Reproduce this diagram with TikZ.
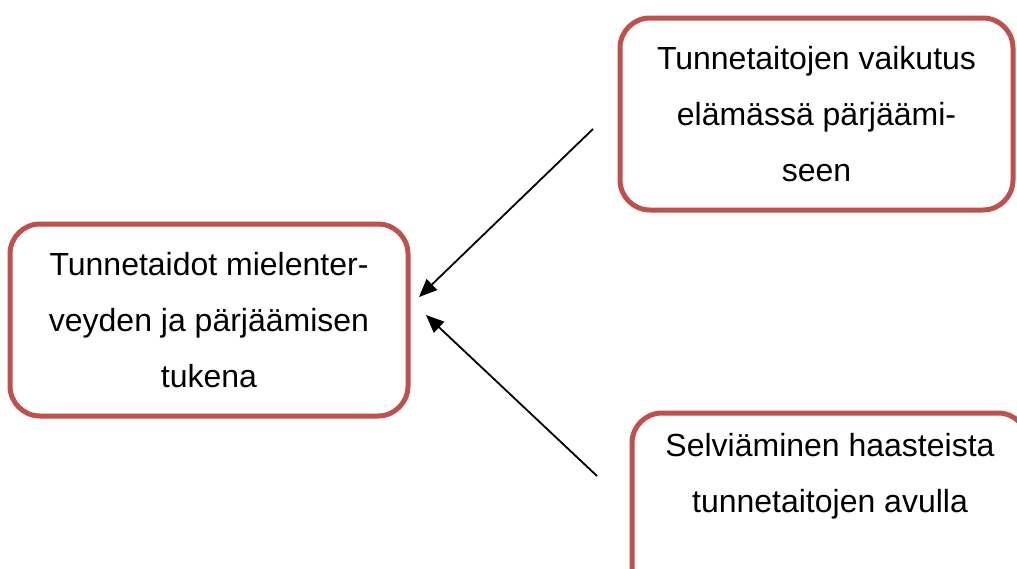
\documentclass[tikz,border=0pt]{standalone}
\usepackage{fontspec}
\setmainfont{Liberation Sans}
\usetikzlibrary{arrows.meta}
\definecolor{boxred}{HTML}{C0504D}
\begin{document}
\begin{tikzpicture}[x=1pt,y=-1pt,
  box/.style={draw=boxred, line width=5pt, rounded corners=30pt, fill=white,
    align=center, inner sep=0pt, font=\fontsize{32}{56}\selectfont},
  arr/.style={line width=1.8pt, -{Triangle[length=18pt,width=15pt]}}]
\useasboundingbox (0,0) rectangle (1017,568);
\clip (0,0) rectangle (1017,568);
\node[box, minimum width=398pt, minimum height=192pt] (main) at (209,320)
  {Tunnetaidot mielenter-\\veyden ja pärjäämisen\\tukena};
\node[box, minimum width=393pt, minimum height=192pt] (top) at (816.5,114)
  {Tunnetaitojen vaikutus\\elämässä pärjäämi-\\seen};
\node[box, minimum width=396pt, minimum height=192pt] (bottom) at (830,509)
  {Selviäminen haasteista\\tunnetaitojen avulla\\\strut};
\coordinate (s1) at (593,129);
\coordinate (t1) at (419,297);
\coordinate (s2) at (597,476);
\coordinate (t2) at (426,315);
\draw[arr] (s1) -- (t1);
\draw[arr] (s2) -- (t2);
\end{tikzpicture}
\end{document}
